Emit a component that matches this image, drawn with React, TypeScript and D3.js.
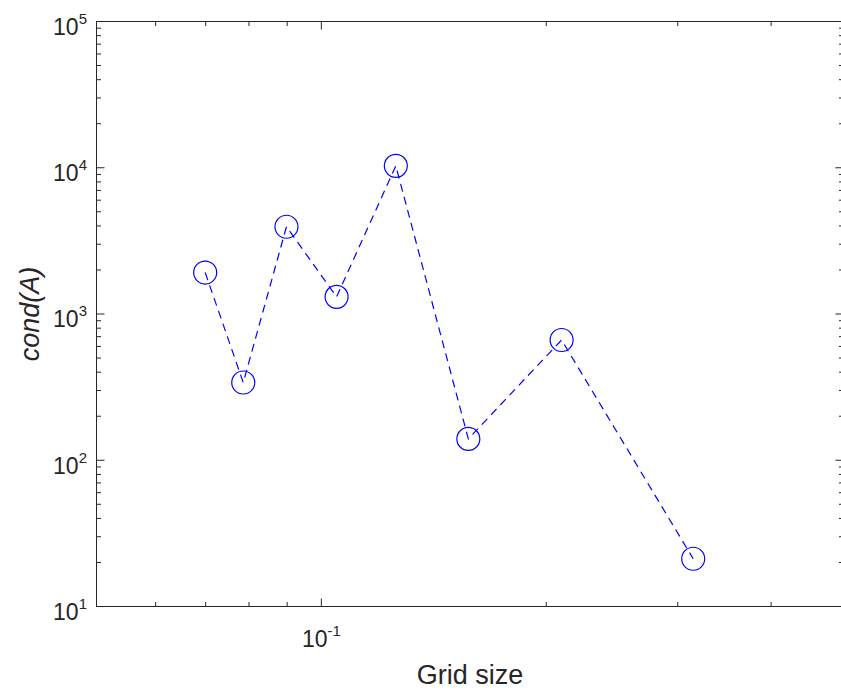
import React from "react";
import * as d3 from "d3";

// Data
const gridSize = [0.0699, 0.0786, 0.0898, 0.1048, 0.1258, 0.1573, 0.2097, 0.3146];
const condA = [1920, 340, 3950, 1310, 10300, 140, 664, 21.2];

const xMajorTicks = [0.1];
const xTickLabels = ["-1"];
const yMajorTicks = [1e1, 1e2, 1e3, 1e4, 1e5];
const yTickLabels = ["1", "2", "3", "4", "5"];
const xLabel = "Grid size";
const yLabel = "cond(A)";

const W = 841;
const H = 692;
const left = 96.5;
const right = 843.5;
const top = 21.5;
const bottom = 606.5;

const axisColor = "#262626";
const lineColor = "#0000ff";
const font = "'Liberation Sans', Arial, Helvetica, sans-serif";

export default function App() {
  const x = d3.scaleLog().domain([0.05, 0.5]).range([left, right]);
  const y = d3.scaleLog().domain([10, 1e5]).range([bottom, top]);

  const xMinor: number[] = [];
  [0.01, 0.1].forEach((d) => {
    for (let k = 2; k <= 9; k++) {
      const v = k * d;
      if (v > 0.05 && v < 0.5) xMinor.push(v);
    }
  });
  const yMinor: number[] = [];
  [10, 100, 1000, 10000].forEach((d) => {
    for (let k = 2; k <= 9; k++) yMinor.push(k * d);
  });

  const pts = gridSize.map((g, i) => [g, condA[i]] as [number, number]);
  const line = d3
    .line<[number, number]>()
    .x((d) => x(d[0]))
    .y((d) => y(d[1]));

  const majorLen = 8;
  const minorLen = 4.5;

  return (
    <div style={{ position: "absolute", left: 0, top: 0 }}>
      <svg width={W} height={H} style={{ display: "block", background: "#fff" }}>
        <rect x={0} y={0} width={W} height={H} fill="#fff" />
        {/* data line */}
        <path
          d={line(pts) || ""}
          fill="none"
          stroke={lineColor}
          strokeWidth={1.2}
          strokeDasharray="8,5.5"
        />
        {pts.map((p, i) => (
          <circle
            key={i}
            cx={x(p[0])}
            cy={y(p[1])}
            r={11.5}
            fill="none"
            stroke={lineColor}
            strokeWidth={1.2}
          />
        ))}
        {/* box */}
        <rect
          x={left}
          y={top}
          width={right - left}
          height={bottom - top}
          fill="none"
          stroke={axisColor}
          strokeWidth={1}
        />
        {/* x ticks */}
        {xMajorTicks.map((t, i) => (
          <g key={"xM" + i}>
            <line x1={x(t)} x2={x(t)} y1={bottom} y2={bottom - majorLen} stroke={axisColor} />
            <line x1={x(t)} x2={x(t)} y1={top} y2={top + majorLen} stroke={axisColor} />
          </g>
        ))}
        {xMinor.map((t, i) => (
          <g key={"xm" + i}>
            <line x1={x(t)} x2={x(t)} y1={bottom} y2={bottom - minorLen} stroke={axisColor} />
            <line x1={x(t)} x2={x(t)} y1={top} y2={top + minorLen} stroke={axisColor} />
          </g>
        ))}
        {/* y ticks */}
        {yMajorTicks.map((t, i) => (
          <g key={"yM" + i}>
            <line x1={left} x2={left + majorLen} y1={y(t)} y2={y(t)} stroke={axisColor} />
            <line x1={right} x2={right - majorLen} y1={y(t)} y2={y(t)} stroke={axisColor} />
          </g>
        ))}
        {yMinor.map((t, i) => (
          <g key={"ym" + i}>
            <line x1={left} x2={left + minorLen} y1={y(t)} y2={y(t)} stroke={axisColor} />
            <line x1={right} x2={right - minorLen} y1={y(t)} y2={y(t)} stroke={axisColor} />
          </g>
        ))}
        {/* y tick labels */}
        {yMajorTicks.map((t, i) => (
          <text
            key={"yl" + i}
            x={87}
            y={y(t) + 13.3}
            textAnchor="end"
            fontFamily={font}
            fontSize={23}
            fill={axisColor}
          >
            <tspan>10</tspan>
            <tspan dy={-11} fontSize={15}>
              {yTickLabels[i]}
            </tspan>
          </text>
        ))}
        {/* x tick labels */}
        {xMajorTicks.map((t, i) => (
          <text
            key={"xl" + i}
            x={x(t)}
            y={647.3}
            textAnchor="middle"
            fontFamily={font}
            fontSize={23}
            fill={axisColor}
          >
            <tspan>10</tspan>
            <tspan dy={-11} fontSize={15}>
              {xTickLabels[i]}
            </tspan>
          </text>
        ))}
        {/* axis labels */}
        <text
          x={(left + right) / 2}
          y={683.5}
          textAnchor="middle"
          fontFamily={font}
          fontSize={27}
          fill={axisColor}
        >
          {xLabel}
        </text>
        <text
          transform={`translate(38.5, ${(top + bottom) / 2}) rotate(-90)`}
          textAnchor="middle"
          fontFamily={font}
          fontSize={27}
          fontStyle="italic"
          fill={axisColor}
        >
          {yLabel}
        </text>
      </svg>
    </div>
  );
}
